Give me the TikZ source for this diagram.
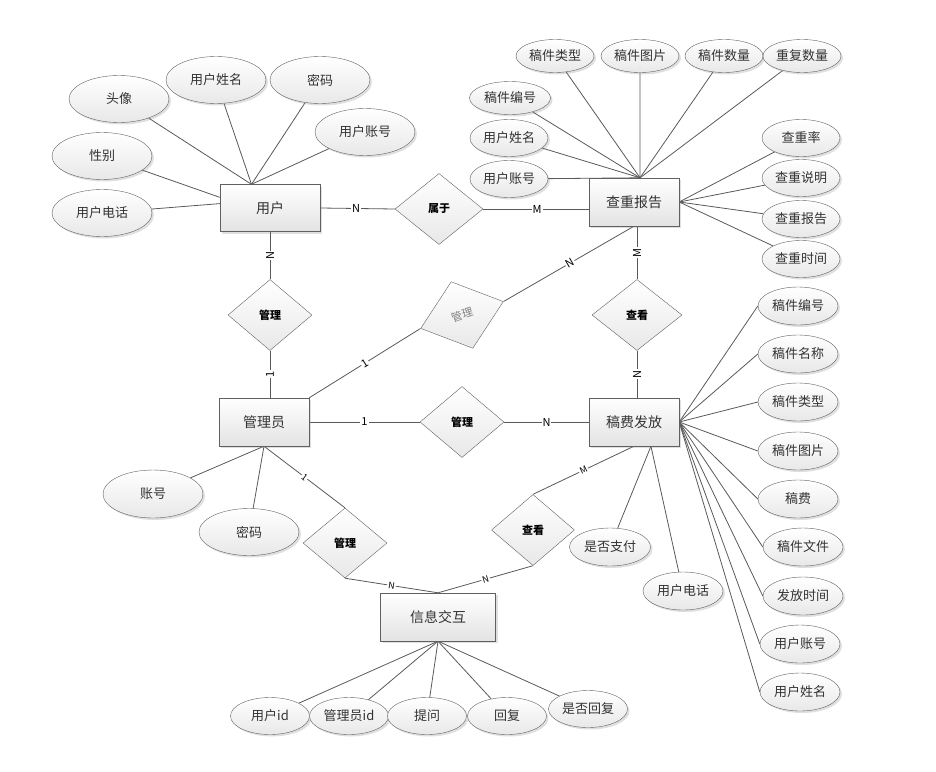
\documentclass[tikz,border=0pt]{standalone}
\usepackage{fontspec}
\setmainfont{Noto Sans CJK SC}
\usetikzlibrary{shapes.geometric,shadows,backgrounds}

\tikzset{
  softshadow/.style={drop shadow={opacity=0.25,shadow xshift=2pt,shadow yshift=-2pt}},
  entity/.style={rectangle,draw=gray!75!black,top color=white,bottom color=gray!22,softshadow,
    minimum width=90pt,minimum height=48pt,inner sep=0pt,text=black!80,font=\fontsize{14}{16}\selectfont},
  attr/.style={ellipse,draw=gray!75!black,top color=white,bottom color=gray!18,softshadow,
    minimum width=79pt,minimum height=37pt,inner sep=0pt,text=black!80,font=\fontsize{13}{15}\selectfont},
  bigattr/.style={attr,minimum width=100pt,minimum height=47pt},
  flatattr/.style={attr,minimum width=78pt,minimum height=33pt},
  feeattr/.style={attr,minimum width=80pt,minimum height=38pt},
  rel/.style={diamond,draw=gray!75!black,top color=white,bottom color=gray!18,
    minimum width=84pt,minimum height=71pt,inner sep=0pt,text=black,font=\fontsize{11}{13}\selectfont\bfseries},
  card/.style={fill=white,inner sep=1pt,text=black,font=\fontsize{11}{12}\selectfont},
  smallcard/.style={card,font=\fontsize{9}{10}\selectfont},
  link/.style={draw=gray!70!black,line width=0.8pt}
}

\begin{document}
\begin{tikzpicture}[x=1pt,y=-1pt]
\useasboundingbox (0,0) rectangle (936,771);

\node[entity,minimum width=100pt,minimum height=47pt] (user) at (270,208) {用户};
\node[entity] (report) at (634,202) {查重报告};
\node[entity] (admin) at (264,422) {管理员};
\node[entity] (fee) at (634,422) {稿费发放};
\node[entity,minimum width=115pt] (info) at (438,617) {信息交互};

\node[rel,minimum width=88pt] (belong) at (439,209) {属于};
\node[rel] (mgrU) at (270,315) {管理};
\node[rel,minimum width=87pt,minimum height=70pt,rotate=18,text=gray,font=\fontsize{11}{13}\selectfont] (mgrR) at (462,315) {管理};
\node[rel] (mgrF) at (462,422) {管理};
\node[rel,minimum width=90pt] (look) at (637,315) {查看};
\node[rel,minimum height=70pt] (mgrI) at (345,543) {管理};
\node[rel,minimum width=83pt] (lookI) at (533,530) {查看};

\node[bigattr] (u1) at (119,99) {头像};
\node[bigattr] (u2) at (216,80) {用户姓名};
\node[bigattr] (u3) at (320,80) {密码};
\node[bigattr] (u4) at (365,132) {用户账号};
\node[bigattr] (u5) at (102,156) {性别};
\node[bigattr] (u6) at (102,213) {用户电话};

\node[flatattr] (r1) at (555,56) {稿件类型};
\node[flatattr] (r2) at (640,56) {稿件图片};
\node[flatattr] (r3) at (724,56) {稿件数量};
\node[flatattr] (r4) at (802,56) {重复数量};
\node[flatattr,minimum width=81pt] (r5) at (510,98) {稿件编号};
\node[attr,minimum width=78pt] (r6) at (509,138) {用户姓名};
\node[attr,minimum width=78pt] (r7) at (509,179) {用户账号};
\node[attr,minimum width=78pt] (r8) at (801,138) {查重率};
\node[attr,minimum width=78pt] (r9) at (801,178) {查重说明};
\node[attr,minimum width=78pt] (r10) at (801,219) {查重报告};
\node[attr,minimum width=78pt] (r11) at (801,259) {查重时间};

\node[bigattr,minimum height=48pt] (a1) at (153,494) {账号};
\node[bigattr] (a2) at (249,532) {密码};

\node[feeattr] (f1) at (798,306) {稿件编号};
\node[feeattr] (f2) at (798,354) {稿件名称};
\node[feeattr] (f3) at (798,402) {稿件类型};
\node[feeattr] (f4) at (798,451) {稿件图片};
\node[feeattr] (f5) at (798,499) {稿费};
\node[feeattr] (f6) at (803,547) {稿件文件};
\node[feeattr] (f7) at (803,596) {发放时间};
\node[feeattr] (f8) at (800,644) {用户账号};
\node[feeattr] (f9) at (800,692) {用户姓名};
\node[feeattr,minimum width=81pt] (f10) at (610,547) {是否支付};
\node[feeattr] (f11) at (683,591) {用户电话};

\node[attr] (i1) at (270,716) {用户id};
\node[attr] (i2) at (349,716) {管理员id};
\node[attr] (i3) at (427,716) {提问};
\node[attr] (i4) at (507,716) {回复};
\node[attr] (i5) at (588,709) {是否回复};

\begin{pgfonlayer}{background}
\foreach \a in {u1,u2,u3,u4} \draw[link] (\a) -- (user.128);
\draw[link] (u5) -- (user.168);
\draw[link] (u6) -- (user.175);
\foreach \a in {r1,r2,r3,r4,r5,r6,r7} \draw[link] (\a) -- (report.76);
\foreach \a in {r8,r9,r10,r11} \draw[link] (\a) -- (report.east);
\foreach \a in {a1,a2} \draw[link] (\a) -- (admin.south);
\foreach \a in {f1,f2,f3,f4,f5,f6,f7,f8,f9} \draw[link] (\a.west) -- (fee.east);
\foreach \a in {f10,f11} \draw[link] (\a) -- (fee.-55);
\foreach \a in {i1,i2,i3,i4,i5} \draw[link] (\a) -- (info.south);

\draw[link] (user.east) -- (belong.west) node[card,pos=0.48] {N};
\draw[link] (belong.east) -- (report.west |- belong.east) node[card,pos=0.51] {M};
\draw[link] (user.south) -- (mgrU.north) node[card,midway,rotate=90] {N};
\draw[link] (mgrU.south) -- (mgrU.south |- admin.north) node[card,midway,rotate=90] {1};
\draw[link] (admin.north east) -- (mgrR.west) node[card,midway,sloped] {1};
\draw[link] (mgrR.east) -- (report.south) node[card,pos=0.51,sloped] {N};
\draw[link] (report.south -| look.north) -- (look.north) node[card,midway,rotate=90] {M};
\draw[link] (look.south) -- (look.south |- fee.north) node[card,midway,rotate=90] {N};
\draw[link] (admin.east) -- (mgrF.west) node[card,midway] {1};
\draw[link] (mgrF.east) -- (fee.west) node[card,midway] {N};
\draw[link] (admin.south) -- (mgrI.north) node[smallcard,midway,sloped] {1};
\draw[link] (mgrI.south) -- (info.north) node[smallcard,midway,sloped] {N};
\draw[link] (lookI.south) -- (info.north) node[smallcard,midway,sloped] {N};
\draw[link] (fee.south) -- (lookI.north) node[smallcard,midway,sloped] {M};
\end{pgfonlayer}

\end{tikzpicture}
\end{document}
